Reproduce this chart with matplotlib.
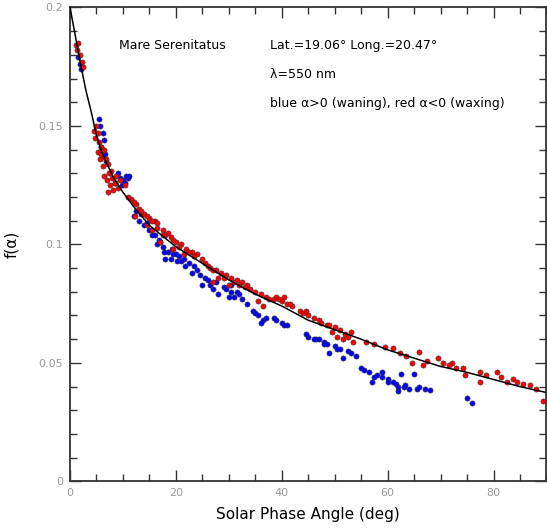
import matplotlib
matplotlib.use("Agg")
import matplotlib.pyplot as plt
from matplotlib.ticker import MultipleLocator

# model curve (phase angle, f)
curve_alpha = [0, 1, 2, 3, 4, 5, 6, 8, 10, 12, 15, 20, 25, 30, 35, 40, 45,
               50, 55, 60, 65, 70, 75, 80, 85, 90]
curve_f = [0.200, 0.188, 0.176, 0.165, 0.156, 0.146, 0.139, 0.129, 0.122,
           0.116, 0.108, 0.099, 0.092, 0.085, 0.079, 0.074, 0.068, 0.064,
           0.060, 0.0555, 0.052, 0.0485, 0.046, 0.043, 0.040, 0.0375]

# waxing (red) points
red_alpha = [1.2, 1.4, 1.5, 1.8, 2.2, 2.5,
             5.0, 5.2, 4.8, 5.5, 5.8, 5.3, 6.0, 6.5, 6.8, 7.2, 5.6, 6.2,
             6.5, 7.0, 7.5, 8.0, 8.5, 9.0, 8.2, 7.8, 9.5, 10.3, 7.2,
             11.5, 12.5, 13.0, 14.0, 15.0, 16.0, 16.5, 17.5, 18.0, 19.0, 20.0,
             21.0, 22.0, 23.0, 24.0, 17.0, 19.5, 21.5, 12.2, 14.5, 15.5,
             26.5, 27.5, 28.5, 29.5, 30.5, 31.5, 32.5, 33.5, 28.0, 30.0, 27.0,
             35.0, 36.0, 37.0, 38.5, 40.0, 41.0, 42.0, 43.5, 45.0, 46.0, 47.0,
             48.5, 35.5, 36.5, 39.0, 40.5,
             50.0, 51.0, 52.0, 53.0, 50.5, 51.5, 49.5,
             59.5, 61.0, 62.4, 64.6, 66.0, 69.5, 72.2, 74.2, 74.6, 77.5, 77.5,
             80.6, 82.5, 83.7, 86.9, 89.4, 66.7,
             11.0, 12.0, 13.5, 14.5, 15.5, 16.5, 17.5, 18.5, 19.5, 20.5, 22.5,
             23.5, 25.0, 25.5, 26.0, 27.0, 29.0, 31.0, 32.0, 33.0, 34.0, 37.5,
             39.5, 41.5, 44.0, 44.5, 47.5, 49.0, 52.5, 53.5, 56.0, 57.5, 63.5,
             67.5, 70.5, 71.5, 73.0, 78.5, 81.5, 84.5, 85.5, 88.0, 4.6, 5.9,
             7.4, 8.7]
red_f = [0.184, 0.182, 0.185, 0.180, 0.177, 0.175,
         0.150, 0.147, 0.145, 0.143, 0.141, 0.139, 0.137, 0.140, 0.136, 0.134,
         0.136, 0.133,
         0.129, 0.127, 0.125, 0.128, 0.126, 0.124, 0.123, 0.131, 0.127, 0.125,
         0.122,
         0.119, 0.117, 0.115, 0.113, 0.111, 0.110, 0.107, 0.106, 0.104, 0.103,
         0.101, 0.100, 0.098, 0.097, 0.096, 0.101, 0.098, 0.096, 0.112, 0.108,
         0.106,
         0.090, 0.089, 0.088, 0.087, 0.086, 0.085, 0.084, 0.083, 0.086, 0.083,
         0.084,
         0.080, 0.079, 0.078, 0.077, 0.076, 0.075, 0.074, 0.072, 0.070, 0.069,
         0.068, 0.066, 0.076, 0.074, 0.078, 0.078,
         0.065, 0.064, 0.062, 0.063, 0.061, 0.060, 0.063,
         0.0567, 0.0562, 0.054, 0.050, 0.0545, 0.052, 0.0498, 0.0477, 0.0447,
         0.046, 0.0418, 0.046, 0.0418, 0.0434, 0.0405, 0.034, 0.049,
         0.120, 0.118, 0.114, 0.112, 0.110, 0.109, 0.104, 0.105, 0.102, 0.099,
         0.097, 0.095, 0.094, 0.092, 0.091, 0.089, 0.086, 0.084, 0.083, 0.082,
         0.081, 0.077, 0.077, 0.075, 0.071, 0.072, 0.067, 0.066, 0.061, 0.059,
         0.059, 0.058, 0.053, 0.051, 0.050, 0.049, 0.048, 0.045, 0.044, 0.042,
         0.041, 0.039, 0.148, 0.138, 0.130, 0.129]

# waning (blue) points
blue_alpha = [1.6, 1.9, 2.0,
              5.4, 5.6, 6.2, 6.4, 5.8, 6.0, 6.8,
              9.0, 9.5, 10.0, 10.5, 11.0, 9.8, 8.5,
              12.0, 13.0, 14.0, 15.0, 13.5, 16.0,
              16.5, 17.5, 18.5, 19.5, 20.5, 21.5, 18.0,
              17.0, 20.0, 21.0, 22.5, 23.5, 19.0,
              23.0, 24.5, 26.0, 27.5, 29.0, 30.5, 25.0, 28.0,
              30.5, 31.5, 32.5, 31.0, 34.5, 35.5, 36.5, 38.5, 40.0, 41.0,
              45.0, 46.5, 48.0,
              46.0, 48.0, 50.0, 51.0, 52.5, 54.0, 49.0, 51.5,
              55.0, 56.5, 58.0, 60.0, 61.5, 63.0, 57.0,
              59.0, 62.5, 65.0, 60.0, 62.0, 63.3, 65.5, 68.0, 75.0, 76.0,
              12.5, 14.5, 15.5, 16.8, 17.8, 19.2, 20.2, 21.8, 24.0, 25.5, 26.5,
              27.0, 29.5, 30.0, 32.0, 33.5, 35.0, 36.0, 37.0, 39.0, 40.5, 44.5,
              47.0, 48.5, 50.5, 53.0, 55.5, 57.5, 59.0, 61.0, 62.0, 64.0, 66.0,
              67.0, 6.6, 10.3, 11.2]
blue_f = [0.179, 0.176, 0.174,
          0.153, 0.150, 0.147, 0.144, 0.141, 0.139, 0.135,
          0.130, 0.128, 0.127, 0.129, 0.128, 0.125, 0.126,
          0.112, 0.110, 0.108, 0.106, 0.113, 0.104,
          0.100, 0.099, 0.097, 0.096, 0.095, 0.094, 0.094,
          0.101, 0.096, 0.093, 0.092, 0.091, 0.094,
          0.088, 0.087, 0.085, 0.084, 0.082, 0.080, 0.083, 0.079,
          0.083, 0.080, 0.077, 0.078, 0.072, 0.070, 0.068, 0.069, 0.067, 0.066,
          0.061, 0.060, 0.059,
          0.060, 0.058, 0.057, 0.056, 0.055, 0.053, 0.054, 0.052,
          0.048, 0.046, 0.045, 0.043, 0.041, 0.040, 0.042,
          0.046, 0.0455, 0.0455, 0.042, 0.038, 0.0405, 0.039, 0.0384, 0.035,
          0.033,
          0.114, 0.109, 0.104, 0.102, 0.097, 0.098, 0.093, 0.091, 0.089, 0.086,
          0.083, 0.081, 0.081, 0.078, 0.079, 0.075, 0.071, 0.067, 0.069, 0.068,
          0.066, 0.062, 0.060, 0.058, 0.056, 0.054, 0.047, 0.044, 0.044, 0.042,
          0.040, 0.039, 0.040, 0.039, 0.138, 0.126, 0.129]

fig = plt.figure(figsize=(5.47, 5.29), dpi=100)
ax = fig.add_axes([0.128, 0.090, 0.871, 0.896])

ax.scatter(blue_alpha, blue_f, s=14, c="#0000ff", edgecolors="#333333",
           linewidths=0.4, zorder=2)
ax.scatter(red_alpha, red_f, s=14, c="#ff0000", edgecolors="#333333",
           linewidths=0.4, zorder=3)
ax.plot(curve_alpha, curve_f, color="black", lw=1.1, zorder=4)

ax.set_xlim(0, 90)
ax.set_ylim(0, 0.2)
ax.xaxis.set_major_locator(MultipleLocator(20))
ax.xaxis.set_minor_locator(MultipleLocator(5))
ax.yaxis.set_major_locator(MultipleLocator(0.05))
ax.yaxis.set_minor_locator(MultipleLocator(0.01))
ax.set_yticks([0, 0.05, 0.1, 0.15, 0.2])
ax.set_yticklabels(["0", "0.05", "0.1", "0.15", "0.2"])
ax.tick_params(which="both", direction="in", top=True, right=True,
               colors="#333333", labelcolor="#999999", labelsize=8, width=1)
ax.tick_params(which="major", length=8, pad=5)
ax.tick_params(which="minor", length=5)
for sp in ax.spines.values():
    sp.set_linewidth(1.3)
    sp.set_color("#333333")

ax.set_xlabel("Solar Phase Angle (deg)", fontsize=11, labelpad=6)
ax.set_ylabel("f(α)", fontsize=11, labelpad=14)

ax.text(9.2, 0.184, "Mare Serenitatus", fontsize=9, va="center")
ax.text(37.8, 0.184, "Lat.=19.06° Long.=20.47°", fontsize=9, va="center")
ax.text(37.8, 0.1715, "λ=550 nm", fontsize=9, va="center")
ax.text(37.8, 0.1595, "blue α>0 (waning), red α<0 (waxing)", fontsize=9,
        va="center")

fig.savefig("out.png", dpi=100)
